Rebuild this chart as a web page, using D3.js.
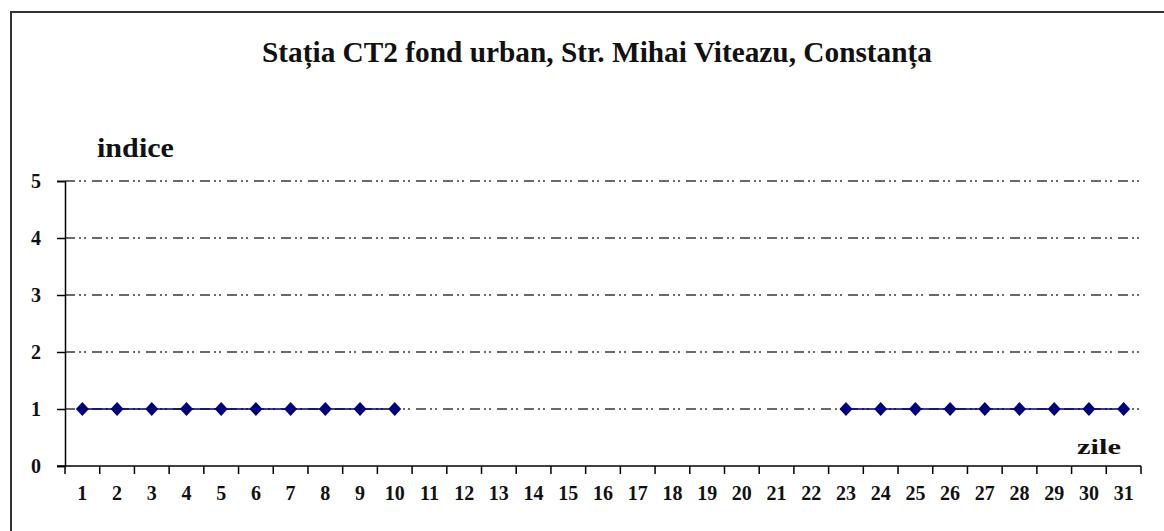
<!DOCTYPE html>
<html><head><meta charset="utf-8">
<script src="https://cdn.jsdelivr.net/npm/d3@7"></script>
<style>html,body{margin:0;padding:0;background:#fff;overflow:hidden}</style>
</head><body>
<svg id="c" width="1164" height="531"></svg>
<script>
const titleText = "Stația CT2 fond urban, Str. Mihai Viteazu, Constanța";
const yAxisTitle = "indice";
const xAxisTitle = "zile";
const days = d3.range(1, 32);
const values = [1,1,1,1,1,1,1,1,1,1, null,null,null,null,null,null,null,null,null,null,null,null, 1,1,1,1,1,1,1,1,1];
const yTicks = [0,1,2,3,4,5];

const svg = d3.select("#c");
const font = "'Liberation Serif','Times New Roman',serif";

// outer frame (right/bottom edges beyond the view)
svg.append("rect").attr("x",11).attr("y",12).attr("width",1200).attr("height",600)
  .attr("fill","#fff").attr("stroke","#333").attr("stroke-width",2);

const x = d3.scaleBand().domain(days).range([65,1141]);
const y = d3.scaleLinear().domain([0,5]).range([466,181]);

// gridlines
svg.append("g").selectAll("line").data(yTicks.filter(d=>d>0)).join("line")
  .attr("x1",65).attr("x2",1141).attr("y1",d=>y(d)).attr("y2",d=>y(d))
  .attr("stroke","#3a3a3a").attr("stroke-width",1.5)
  .attr("stroke-dasharray","10,4,2,3,2,6");

// y axis
const ya = svg.append("g").attr("transform","translate(65,0)")
  .call(d3.axisLeft(y).tickValues(yTicks).tickFormat(d3.format("d")).tickSize(8).tickPadding(16));
ya.select(".domain").attr("stroke","#000").attr("stroke-width",1.5);
ya.selectAll(".tick line").attr("stroke","#000").attr("stroke-width",1.5);
ya.selectAll("text").attr("font-family",font).attr("font-weight","bold").attr("font-size",20).attr("fill","#111");

// x axis
const xa = svg.append("g").attr("transform","translate(0,466)")
  .call(d3.axisBottom(x).tickSize(0).tickPadding(20));
xa.select(".domain").remove();
xa.selectAll("text").attr("font-family",font).attr("font-weight","bold").attr("font-size",20).attr("fill","#111");
svg.append("line").attr("x1",57).attr("x2",1141).attr("y1",466).attr("y2",466).attr("stroke","#000").attr("stroke-width",1.5);
const tickPos = days.map(d=>x(d)).concat([x.range()[1]]);
svg.append("g").selectAll("line").data(tickPos).join("line")
  .attr("x1",d=>d).attr("x2",d=>d).attr("y1",466).attr("y2",474)
  .attr("stroke","#000").attr("stroke-width",1.5);

// series
const pts = days.map((d,i)=>({d, v: values[i]}));
const line = d3.line().defined(p=>p.v!=null).x(p=>x(p.d)+x.bandwidth()/2).y(p=>y(p.v));
svg.append("path").datum(pts).attr("d",line).attr("fill","none").attr("stroke","#000066").attr("stroke-width",1.5);
svg.append("g").selectAll("path").data(pts.filter(p=>p.v!=null)).join("path")
  .attr("transform",p=>`translate(${x(p.d)+x.bandwidth()/2},${y(p.v)})`)
  .attr("d","M0,-7L6.5,0L0,7L-6.5,0Z")
  .attr("fill","#00007a");

// texts
svg.append("text").attr("x",597).attr("y",62).attr("text-anchor","middle")
  .attr("font-family",font).attr("font-weight","bold").attr("font-size",29)
  .attr("textLength",670).attr("lengthAdjust","spacingAndGlyphs").attr("fill","#111").text(titleText);
svg.append("text").attr("x",97).attr("y",157)
  .attr("font-family",font).attr("font-weight","bold").attr("font-size",27)
  .attr("textLength",77).attr("lengthAdjust","spacingAndGlyphs").attr("fill","#111").text(yAxisTitle);
svg.append("text").attr("x",1077).attr("y",454)
  .attr("font-family",font).attr("font-weight","bold").attr("font-size",21)
  .attr("textLength",44).attr("lengthAdjust","spacingAndGlyphs").attr("fill","#111").text(xAxisTitle);
</script>
</body></html>
